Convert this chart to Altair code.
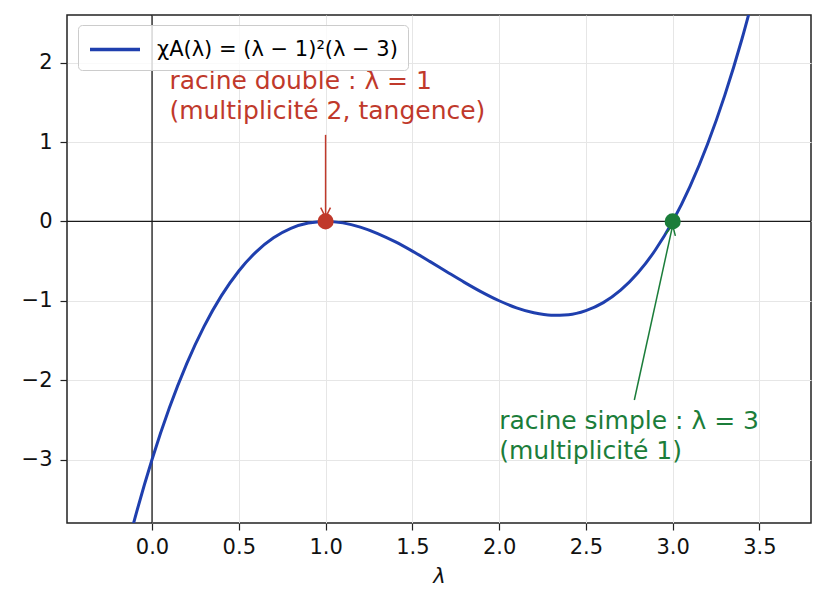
import altair as alt
import pandas as pd

# Courbe chi_A(lambda) = (lambda - 1)^2 (lambda - 3)
lam = [-0.2, -0.1, 0.0, 0.1, 0.2, 0.3, 0.4, 0.5, 0.6, 0.7, 0.8, 0.9, 1.0,
       1.1, 1.2, 1.3, 1.4, 1.5, 1.6, 1.7, 1.8, 1.9, 2.0, 2.1, 2.2, 2.3,
       2.4, 2.5, 2.6, 2.7, 2.8, 2.9, 3.0, 3.1, 3.2, 3.3, 3.4, 3.5]
chi = [-4.608, -3.751, -3.0, -2.349, -1.792, -1.323, -0.936, -0.625, -0.384,
       -0.207, -0.088, -0.021, 0.0, -0.019, -0.072, -0.153, -0.256, -0.375,
       -0.504, -0.637, -0.768, -0.891, -1.0, -1.089, -1.152, -1.183, -1.176,
       -1.125, -1.024, -0.867, -0.648, -0.361, 0.0, 0.441, 0.968, 1.587,
       2.304, 3.125]

legend_label = "χA(λ) = (λ − 1)²(λ − 3)"

# racines
root_x = [1.0, 3.0]
root_y = [0.0, 0.0]
root_color = ["#c0392b", "#1b7d3a"]

# annotations (texte + flèche)
note_text = ["racine double : λ = 1\n(multiplicité 2, tangence)",
             "racine simple : λ = 3\n(multiplicité 1)"]
note_x = [0.1, 2.0]
note_y = [1.673, -2.614]
arrow_x = [1.0, 2.779]
arrow_y = [1.09, -2.25]
arrow_x2 = [1.0, 3.0]
arrow_y2 = [0.05, -0.05]
arrow_angle = [180, 12.3]

x_ticks = [0.0, 0.5, 1.0, 1.5, 2.0, 2.5, 3.0, 3.5]
y_ticks = [-3, -2, -1, 0, 1, 2]

FONT = "DejaVu Sans"
BLUE = "#1f3fae"

curve_df = pd.DataFrame({"lam": lam, "chi": chi, "serie": legend_label})
roots_df = pd.DataFrame({"x": root_x, "y": root_y, "c": root_color})
notes_df = pd.DataFrame({"x": note_x, "y": note_y, "txt": note_text, "c": root_color})
arrows_df = pd.DataFrame({"x": arrow_x, "y": arrow_y, "x2": arrow_x2, "y2": arrow_y2,
                          "angle": arrow_angle, "c": root_color})

xs = alt.Scale(domain=[-0.49, 3.797], nice=False, zero=False)
ys = alt.Scale(domain=[-3.8, 2.6], nice=False, zero=False)

x_axis = alt.Axis(values=x_ticks, format=".1f", title="λ", grid=True)
y_axis = alt.Axis(values=y_ticks, format="d", title=None, grid=True)

# trait de légende long (50 px) sans gonfler la hauteur de l'entrée
curve = alt.Chart(curve_df).mark_line(strokeWidth=3, clip=True, interpolate="monotone").encode(
    x=alt.X("lam:Q", scale=xs, axis=x_axis),
    y=alt.Y("chi:Q", scale=ys, axis=y_axis),
    color=alt.Color("serie:N", scale=alt.Scale(domain=[legend_label], range=[BLUE]),
                    legend=alt.Legend(title=None, orient="none", legendX=11, legendY=10,
                                      symbolType="M-1,0 L3,0", symbolSize=625,
                                      symbolStrokeWidth=3.5, labelFontSize=21,
                                      labelFont=FONT, labelOffset=40, padding=10,
                                      labelLimit=500,
                                      fillColor="rgba(255,255,255,0.8)",
                                      strokeColor="#cccccc", cornerRadius=4)),
)

zero_h = alt.Chart(pd.DataFrame({"y": [0.0]})).mark_rule(color="#1a1a1a", strokeWidth=1.3).encode(
    y=alt.Y("y:Q", scale=ys))
zero_v = alt.Chart(pd.DataFrame({"x": [0.0]})).mark_rule(color="#1a1a1a", strokeWidth=1.3).encode(
    x=alt.X("x:Q", scale=xs))

shafts = alt.Chart(arrows_df).mark_rule(strokeWidth=1.5).encode(
    x=alt.X("x:Q", scale=xs), y=alt.Y("y:Q", scale=ys),
    x2="x2:Q", y2="y2:Q",
    color=alt.Color("c:N", scale=None),
)
heads = alt.Chart(arrows_df).mark_point(
    shape="M-0.5,1 L0,0 L0.5,1", filled=False, size=380, strokeWidth=1.5, opacity=1
).encode(
    x=alt.X("x2:Q", scale=xs), y=alt.Y("y2:Q", scale=ys),
    angle=alt.Angle("angle:Q", scale=None),
    color=alt.Color("c:N", scale=None),
)

dots = alt.Chart(roots_df).mark_circle(size=260, opacity=1).encode(
    x=alt.X("x:Q", scale=xs), y=alt.Y("y:Q", scale=ys),
    color=alt.Color("c:N", scale=None),
)

notes = alt.Chart(notes_df).mark_text(
    align="left", baseline="alphabetic", lineBreak="\n", lineHeight=30,
    fontSize=25, font=FONT
).encode(
    x=alt.X("x:Q", scale=xs), y=alt.Y("y:Q", scale=ys),
    text="txt:N",
    color=alt.Color("c:N", scale=None),
)

chart = alt.layer(zero_h, zero_v, curve, shafts, heads, dots, notes).properties(
    width=744, height=508,
    autosize=alt.AutoSizeParams(type="none"),
    padding={"left": 59, "top": 7, "right": 6, "bottom": 80},
).configure_view(
    stroke="#222222", strokeWidth=1.5
).configure_axis(
    domain=False, gridColor="#e6e6e6", gridWidth=1,
    tickColor="#222222", tickWidth=1.2, tickSize=7,
    labelFont=FONT, labelFontSize=21, labelColor="#111111",
    titleFont=FONT, titleFontSize=21, titleFontWeight="normal", titleColor="#111111",
).configure_axisX(
    labelPadding=6, titlePadding=8, titleFontStyle="italic"
).configure_axisY(
    labelPadding=8
)

chart.save("out.html", embed_options={"renderer": "svg", "actions": False})
